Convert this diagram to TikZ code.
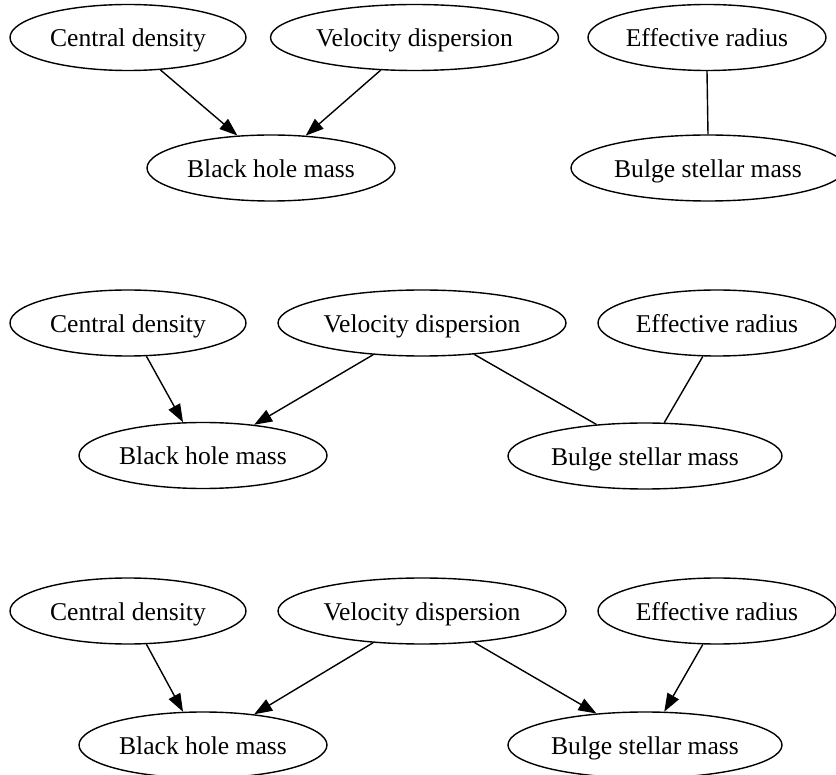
\documentclass[tikz,border=0pt]{standalone}
\usepackage{fontspec}
\setmainfont{Liberation Serif}
\usetikzlibrary{shapes.geometric,arrows.meta}
\tikzset{
  var/.style={draw, ellipse, line width=1.4pt, inner sep=0pt, minimum height=66pt,
    text height=25pt, text depth=6pt,
    font=\fontsize{25.6}{30}\selectfont},
  cd/.style={var, minimum width=236pt},
  vd/.style={var, minimum width=288pt},
  er/.style={var, minimum width=238pt},
  bh/.style={var, minimum width=248pt},
  bs/.style={var, minimum width=274pt},
  dir/.style={line width=1.4pt, -{Triangle[length=18pt,width=13pt]}},
  undir/.style={line width=1.4pt}
}
\begin{document}
\begin{tikzpicture}[x=1pt,y=-1pt]
\useasboundingbox (0,0) rectangle (836,775);
% graph 1
\node[cd] (cd1) at (128,37.5) {Central density};
\node[vd] (vd1) at (414.5,37.5) {Velocity dispersion};
\node[er] (er1) at (707,37.5) {Effective radius};
\node[bh] (bh1) at (271,168) {Black hole mass};
\node[bs] (bs1) at (708,168) {Bulge stellar mass};
\draw[dir] (cd1.315) -- (bh1.136);
\draw[dir] (vd1.224) -- (bh1.43);
\draw[undir] (er1.south) -- (bs1.north);
% graph 2
\node[cd] (cd2) at (128,323) {Central density};
\node[vd] (vd2) at (422,323) {Velocity dispersion};
\node[er] (er2) at (717,323) {Effective radius};
\node[bh] (bh2) at (203,455.5) {Black hole mass};
\node[bs] (bs2) at (645,456) {Bulge stellar mass};
\draw[dir] (cd2.299) -- (bh2.121);
\draw[dir] (vd2.213) -- (bh2.31);
\draw[undir] (vd2.329) -- (bs2.147);
\draw[undir] (er2.247) -- (bs2.60);
% graph 3
\node[cd] (cd3) at (128,611) {Central density};
\node[vd] (vd3) at (422,611) {Velocity dispersion};
\node[er] (er3) at (717,611) {Effective radius};
\node[bh] (bh3) at (203,745) {Black hole mass};
\node[bs] (bs3) at (645,745) {Bulge stellar mass};
\draw[dir] (cd3.299) -- (bh3.121);
\draw[dir] (vd3.213) -- (bh3.31);
\draw[dir] (vd3.329) -- (bs3.147);
\draw[dir] (er3.247) -- (bs3.60);
\end{tikzpicture}
\end{document}
